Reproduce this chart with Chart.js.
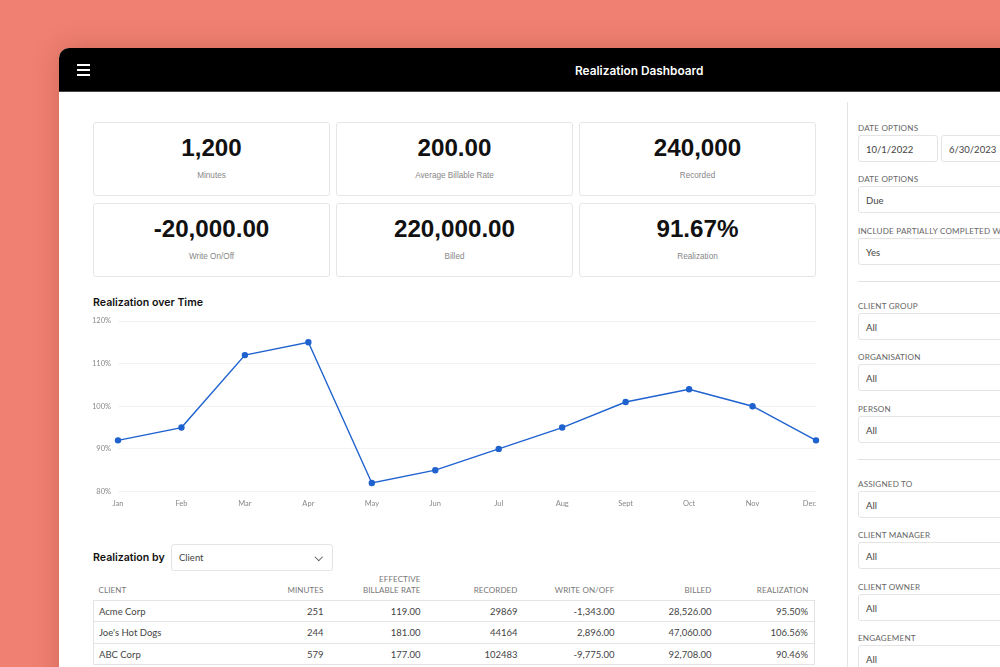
<!DOCTYPE html>
<html>
<head>
<meta charset="utf-8">
<title>Realization Dashboard</title>
<script src="https://cdn.jsdelivr.net/npm/chart.js@4"></script>
<style>
html, body { margin: 0; width: 1000px; height: 667px; overflow: hidden; background: #f08071; }
* { box-sizing: border-box; }
#window { position: absolute; left: 59px; top: 48px; width: 1100px; height: 700px; background: #fff; border-radius: 10px 0 0 0; overflow: hidden; box-shadow: 0 0 26px rgba(120, 50, 40, .28); }
#topbar { position: absolute; left: 0; top: 0; width: 100%; height: 44px; background: #000; border-bottom: 1px solid #444; }
#menu { position: absolute; left: 18px; top: 16px; width: 13px; height: 12px; border-top: 2px solid #fff; border-bottom: 2px solid #fff; }
#menu::after { content: ''; position: absolute; left: 0; right: 0; top: 3px; height: 2px; background: #fff; }
#title { position: absolute; left: 516px; top: 16px; font: 600 11.85px Inter, sans-serif; color: #fff; white-space: nowrap; }

.card { position: absolute; width: 237px; height: 74px; border: 1px solid #e6e6e6; border-radius: 3px; text-align: center; }
.card b { position: absolute; left: 0; right: 0; top: 11px; font: bold 24.2px "Liberation Sans", sans-serif; color: #111; }
.card span { position: absolute; left: 0; right: 0; top: 48px; font: 8.2px "Liberation Sans", sans-serif; color: #888; }

.heading { position: absolute; font: 600 10.6px Inter, sans-serif; color: #111; white-space: nowrap; }
#chartBox { position: absolute; left: 34px; top: 262px; width: 733px; height: 200px; }

#bySelect { position: absolute; left: 112px; top: 496px; width: 162px; height: 27px; border: 1px solid #e4e4e4; border-radius: 3px; font: 9.5px/26px Lato, sans-serif; color: #444; padding-left: 7px; }
#bySelect::after { content: ''; position: absolute; right: 11px; top: 9px; width: 4.5px; height: 4.5px; border-right: 1px solid #555; border-bottom: 1px solid #555; transform: rotate(45deg); }

#tableBox { position: absolute; left: 34px; top: 525px; width: 721px; }
table { border-collapse: collapse; table-layout: fixed; width: 721px; font: 9.5px Lato, sans-serif; color: #444; }
th { font-weight: 400; font-size: 8px; letter-spacing: .1px; color: #777; text-align: right; padding: 0 5px 4px 5px; line-height: 11px; vertical-align: bottom; height: 27px; }
td { height: 21.6px; padding: 1px 5px 0; text-align: right; border-top: 1px solid #e4e4e4; border-bottom: 1px solid #e4e4e4; }
th:first-child, td:first-child { text-align: left; border-left: 1px solid #e4e4e4; }
th:last-child, td:last-child { padding-right: 6px; border-right: 1px solid #e4e4e4; }
th:first-child, th:last-child { border-left: 0; border-right: 0; }

#sidebar { position: absolute; left: 788px; top: 54px; width: 300px; height: 700px; border-left: 1px solid #e4e4e4; }
.group { position: absolute; left: 10px; width: 280px; }
.field { height: 51.3px; position: relative; }
.field label { display: block; font: 8.1px/12px Lato, sans-serif; letter-spacing: .2px; color: #666; white-space: nowrap; padding-top: 1px; }
.input { position: absolute; top: 14px; left: 0; width: 260px; height: 27px; border: 1px solid #e4e4e4; border-radius: 3px; font: 9.5px/27px Lato, sans-serif; color: #444; padding-left: 7px; }
.input.half { width: 80px; }
.input.half + .input.half { left: 83px; width: 100px; }
.rule { position: absolute; left: 10px; width: 280px; height: 1px; background: #e2e2e2; }
</style>
</head>
<body>
<div id="window">
  <div id="topbar"><div id="menu"></div><div id="title">Realization Dashboard</div></div>
  <div id="cards"></div>
  <div class="heading" style="left:34px;top:248px">Realization over Time</div>
  <div id="chartBox"><canvas id="realizationChart"></canvas></div>
  <div class="heading" style="left:34px;top:503px">Realization by</div>
  <div id="bySelect">Client</div>
  <div id="tableBox"><table id="clientTable"></table></div>
  <div id="sidebar">
    <div class="group" id="dateGroup" style="top:19px"></div>
    <div class="rule" style="top:179px"></div>
    <div class="group" id="clientGroup" style="top:197px"></div>
    <div class="rule" style="top:357px"></div>
    <div class="group" id="peopleGroup" style="top:375px"></div>
  </div>
</div>

<script>
// Chart data
const months = ['Jan', 'Feb', 'Mar', 'Apr', 'May', 'Jun', 'Jul', 'Aug', 'Sept', 'Oct', 'Nov', 'Dec'];
const realization = [92, 95, 112, 115, 82, 85, 90, 95, 101, 104, 100, 92];

// KPI cards
const kpiValues = ['1,200', '200.00', '240,000', '-20,000.00', '220,000.00', '91.67%'];
const kpiLabels = ['Minutes', 'Average Billable Rate', 'Recorded', 'Write On/Off', 'Billed', 'Realization'];

// Table
const tableHeaders = ['CLIENT', 'MINUTES', 'EFFECTIVE<br>BILLABLE RATE', 'RECORDED', 'WRITE ON/OFF', 'BILLED', 'REALIZATION'];
const clients = ['Acme Corp', "Joe's Hot Dogs", 'ABC Corp'];
const minutes = ['251', '244', '579'];
const rates = ['119.00', '181.00', '177.00'];
const recorded = ['29869', '44164', '102483'];
const writeOnOff = ['-1,343.00', '2,896.00', '-9,775.00'];
const billed = ['28,526.00', '47,060.00', '92,708.00'];
const realizationPct = ['95.50%', '106.56%', '90.46%'];

// Sidebar filters
const dateFilters = [['DATE OPTIONS', '10/1/2022', '6/30/2023'], ['DATE OPTIONS', 'Due'], ['INCLUDE PARTIALLY COMPLETED WORK', 'Yes']];
const clientFilters = [['CLIENT GROUP', 'All'], ['ORGANISATION', 'All'], ['PERSON', 'All']];
const peopleFilters = [['ASSIGNED TO', 'All'], ['CLIENT MANAGER', 'All'], ['CLIENT OWNER', 'All'], ['ENGAGEMENT', 'All']];

// Cards
const cardLefts = [34, 277, 520];
const cardTops = [74, 155];
document.getElementById('cards').innerHTML = kpiValues.map((value, i) => `
    <div class="card" style="left:${cardLefts[i % 3]}px;top:${cardTops[Math.floor(i / 3)]}px">
        <b>${value}</b><span>${kpiLabels[i]}</span>
    </div>`).join('');

// Table
const colWidths = [160, 75, 97, 97, 97, 97, 98];
let tableHtml = '<colgroup>' + colWidths.map(w => `<col style="width:${w}px">`).join('') + '</colgroup>';
tableHtml += '<tr>' + tableHeaders.map(h => `<th>${h}</th>`).join('') + '</tr>';
clients.forEach((client, i) => {
    const cells = [client, minutes[i], rates[i], recorded[i], writeOnOff[i], billed[i], realizationPct[i]];
    tableHtml += '<tr>' + cells.map(c => `<td>${c}</td>`).join('') + '</tr>';
});
document.getElementById('clientTable').innerHTML = tableHtml;

// Sidebar
function renderFilters(id, filters) {
    document.getElementById(id).innerHTML = filters.map(f => {
        const inputs = f.slice(1);
        const cls = inputs.length > 1 ? 'input half' : 'input';
        return `<div class="field"><label>${f[0]}</label>${inputs.map(v => `<div class="${cls}">${v}</div>`).join('')}</div>`;
    }).join('');
}
renderFilters('dateGroup', dateFilters);
renderFilters('clientGroup', clientFilters);
renderFilters('peopleGroup', peopleFilters);

// Last month label sits inside the plot edge in the reference
const lastLabelInside = {
    id: 'lastLabelInside',
    beforeDraw(chart) {
        const items = chart.scales.x.getLabelItems();
        items[items.length - 1].options.textAlign = 'right';
    }
};

new Chart(document.getElementById('realizationChart'), {
    type: 'line',
    data: {
        labels: months,
        datasets: [{
            data: realization,
            borderColor: '#1f62cf',
            backgroundColor: '#1f62cf',
            borderWidth: 1.4,
            pointRadius: 2.5,
            pointHoverRadius: 2.5,
            tension: 0,
            clip: false
        }]
    },
    options: {
        responsive: true,
        maintainAspectRatio: false,
        animation: false,
        layout: { padding: { top: 11, right: 10, bottom: 0, left: 0 } },
        plugins: { legend: { display: false }, tooltip: { enabled: false } },
        scales: {
            x: {
                grid: { display: false, drawTicks: false },
                border: { display: false },
                ticks: { color: '#888', font: { family: 'Lato', size: 7.5 }, padding: 7.5, maxRotation: 0, autoSkip: false },
                afterFit(scale) {
                    scale.paddingLeft = 0;
                    scale.paddingRight = 0;
                    scale.height = 18.5;
                }
            },
            y: {
                min: 80,
                max: 120,
                grid: { color: '#f3f3f3', drawTicks: false },
                border: { display: false },
                ticks: { stepSize: 10, color: '#888', font: { family: 'Lato', size: 7.5 }, padding: 7, callback: v => v + '%' },
                afterFit(scale) {
                    scale.width = 25;
                    scale.paddingTop = 0;
                    scale.paddingBottom = 0;
                }
            }
        }
    },
    plugins: [lastLabelInside]
});
</script>
</body>
</html>
